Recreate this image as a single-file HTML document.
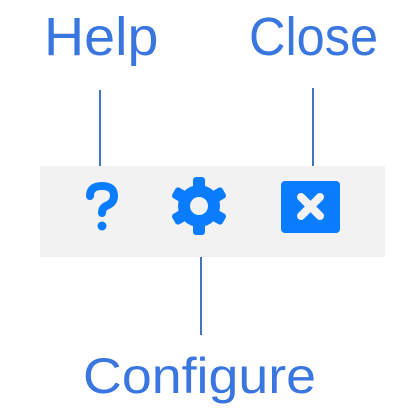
<!DOCTYPE html>
<html><head><style>
html,body{margin:0;padding:0;background:#fff;}
body{width:420px;height:420px;position:relative;overflow:hidden;font-family:"Liberation Sans",sans-serif;}
.t{position:absolute;color:#3a76e0;line-height:1;transform-origin:0 0;white-space:nowrap;}
.l{position:absolute;background:#4472c4;width:2px;}
</style></head><body>
<div class="t" style="left:44px;top:10px;font-size:54px;transform:scaleX(1.03);">Help</div>
<div class="t" style="left:249px;top:10px;font-size:54px;transform:scaleX(0.935);">Close</div>
<div class="t" style="left:83px;top:351px;font-size:50px;transform:scaleX(1.075);">Configure</div>
<div class="l" style="left:99px;top:90px;height:76px;"></div>
<div class="l" style="left:312px;top:88px;height:78px;"></div>
<div class="l" style="left:200px;top:257px;height:78px;"></div>
<div style="position:absolute;left:40px;top:166px;width:345px;height:91px;background:#f2f2f2;"></div>
<svg style="position:absolute;left:0;top:0" width="420" height="420">
<path d="M90 196 Q90 186 102 186 Q114 186 114 196 Q114 203 106 206 Q102 208 102 213" fill="none" stroke="#0a7cff" stroke-width="8" stroke-linecap="round"/>
<circle cx="102" cy="226" r="4.5" fill="#0a7cff"/>
<g transform="translate(199,206)" fill="#0a7cff">
<circle r="21"/>
<rect x="-6" y="-29" width="12" height="58" rx="3"/>
<rect x="-6" y="-29" width="12" height="58" rx="3" transform="rotate(60)"/>
<rect x="-6" y="-29" width="12" height="58" rx="3" transform="rotate(120)"/>
<circle r="9" fill="#f2f2f2"/>
</g>
<rect x="281" y="181" width="59" height="52" rx="4" fill="#0a7cff"/>
<path d="M301 197 L320 216 M320 197 L301 216" stroke="#f2f2f2" stroke-width="8" stroke-linecap="round"/>
</svg>
</body></html>
